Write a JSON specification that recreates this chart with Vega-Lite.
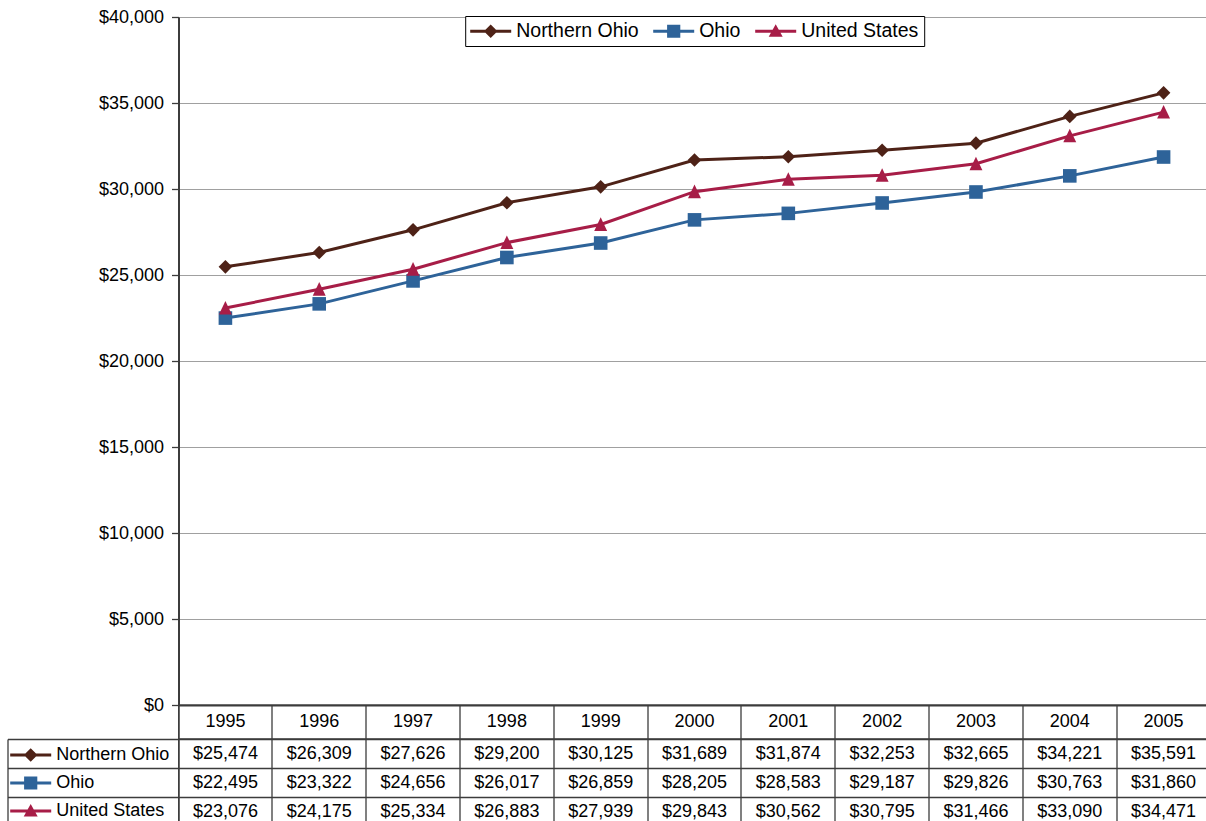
{
  "$schema": "https://vega.github.io/schema/vega-lite/v6.json",
  "background": "white",
  "padding": {"left": 5.5, "top": 8, "right": 0, "bottom": 0},
  "spacing": 0,
  "bounds": "flush",
  "resolve": {"scale": {"fill": "independent"}, "legend": {"fill": "independent"}},
  "datasets": {
    "income": [
      {"series": "Northern Ohio", "year": 1995, "value": 25474},
      {"series": "Northern Ohio", "year": 1996, "value": 26309},
      {"series": "Northern Ohio", "year": 1997, "value": 27626},
      {"series": "Northern Ohio", "year": 1998, "value": 29200},
      {"series": "Northern Ohio", "year": 1999, "value": 30125},
      {"series": "Northern Ohio", "year": 2000, "value": 31689},
      {"series": "Northern Ohio", "year": 2001, "value": 31874},
      {"series": "Northern Ohio", "year": 2002, "value": 32253},
      {"series": "Northern Ohio", "year": 2003, "value": 32665},
      {"series": "Northern Ohio", "year": 2004, "value": 34221},
      {"series": "Northern Ohio", "year": 2005, "value": 35591},
      {"series": "Ohio", "year": 1995, "value": 22495},
      {"series": "Ohio", "year": 1996, "value": 23322},
      {"series": "Ohio", "year": 1997, "value": 24656},
      {"series": "Ohio", "year": 1998, "value": 26017},
      {"series": "Ohio", "year": 1999, "value": 26859},
      {"series": "Ohio", "year": 2000, "value": 28205},
      {"series": "Ohio", "year": 2001, "value": 28583},
      {"series": "Ohio", "year": 2002, "value": 29187},
      {"series": "Ohio", "year": 2003, "value": 29826},
      {"series": "Ohio", "year": 2004, "value": 30763},
      {"series": "Ohio", "year": 2005, "value": 31860},
      {"series": "United States", "year": 1995, "value": 23076},
      {"series": "United States", "year": 1996, "value": 24175},
      {"series": "United States", "year": 1997, "value": 25334},
      {"series": "United States", "year": 1998, "value": 26883},
      {"series": "United States", "year": 1999, "value": 27939},
      {"series": "United States", "year": 2000, "value": 29843},
      {"series": "United States", "year": 2001, "value": 30562},
      {"series": "United States", "year": 2002, "value": 30795},
      {"series": "United States", "year": 2003, "value": 31466},
      {"series": "United States", "year": 2004, "value": 33090},
      {"series": "United States", "year": 2005, "value": 34471}
    ]
  },
  "vconcat": [
    {
      "width": 1032,
      "height": 688,
      "view": {"stroke": null},
      "data": {"name": "income"},
      "encoding": {
        "x": {
          "field": "year", "type": "ordinal",
          "scale": {"type": "band", "paddingInner": 0, "paddingOuter": 0},
          "axis": {"title": null, "labels": false, "ticks": false, "grid": false, "domainColor": "#3c3c3c", "domainWidth": 2}
        },
        "y": {
          "field": "value", "type": "quantitative",
          "scale": {"domain": [0, 40000], "nice": false},
          "axis": {
            "title": null,
            "values": [0, 5000, 10000, 15000, 20000, 25000, 30000, 35000, 40000],
            "format": "$,.0f",
            "labelFont": "Liberation Sans", "labelFontSize": 18, "labelColor": "#000", "labelPadding": 8,
            "tickSize": 7, "tickColor": "#3c3c3c", "tickWidth": 1.3,
            "domainColor": "#3c3c3c", "domainWidth": 2,
            "grid": true, "gridColor": "#a0a0a0", "gridWidth": 1
          }
        }
      },
      "layer": [
        {
          "mark": {"type": "line", "strokeWidth": 3},
          "encoding": {
            "stroke": {
              "field": "series", "type": "nominal",
              "scale": {"domain": ["Northern Ohio", "Ohio", "United States"], "range": ["#4e2217", "#2e6399", "#a71d47"]},
              "legend": {
                "orient": "none", "legendX": 286.7, "legendY": -1, "direction": "horizontal",
                "title": null, "padding": 5, "strokeColor": "#000", "fillColor": "#fff",
                "labelFontSize": 19.5, "labelColor": "#000", "labelOffset": 26, "columnPadding": 14,
                "symbolSize": 400,
                "encode": {
                  "symbols": {
                    "update": {
                      "shape": {"signal": "datum.value === 'Northern Ohio' ? 'M-1,-0.15H3.1V0.15H-1ZM1.05,-0.68L1.73,0L1.05,0.68L0.37,0Z' : datum.value === 'Ohio' ? 'M-1,-0.15H3.1V0.15H-1ZM0.39,-0.66H1.71V0.66H0.39Z' : 'M-1,-0.15H3.1V0.15H-1ZM1.05,-0.7L1.75,0.55H0.35Z'"},
                      "fill": {"signal": "datum.value === 'Northern Ohio' ? '#4e2217' : datum.value === 'Ohio' ? '#2e6399' : '#a71d47'"},
                      "stroke": {"value": "transparent"},
                      "strokeWidth": {"value": 0},
                      "opacity": {"value": 1}
                    }
                  }
                }
              }
            }
          }
        },
        {
          "mark": {"type": "point", "filled": true, "opacity": 1, "size": 185, "strokeWidth": 0},
          "encoding": {
            "fill": {
              "field": "series", "type": "nominal",
              "scale": {"range": ["#4e2217", "#2e6399", "#a71d47"]},
              "legend": {
                "orient": "none", "legendX": -168.3, "legendY": 728, "direction": "vertical",
                "title": null, "padding": 0,
                "labelFontSize": 18, "labelColor": "#000", "labelOffset": 26, "rowPadding": 9,
                "symbolSize": 400, "symbolStrokeWidth": 0, "symbolOpacity": 1,
                "encode": {
                  "symbols": {
                    "update": {
                      "shape": {"signal": "datum.value === 'Northern Ohio' ? 'M-1,-0.15H3.1V0.15H-1ZM1.05,-0.68L1.73,0L1.05,0.68L0.37,0Z' : datum.value === 'Ohio' ? 'M-1,-0.15H3.1V0.15H-1ZM0.39,-0.66H1.71V0.66H0.39Z' : 'M-1,-0.15H3.1V0.15H-1ZM1.05,-0.7L1.75,0.55H0.35Z'"},
                      "stroke": {"value": "transparent"},
                      "strokeWidth": {"value": 0},
                      "opacity": {"value": 1}
                    }
                  }
                }
              }
            },
            "shape": {
              "field": "series", "type": "nominal",
              "scale": {"range": ["diamond", "square", "M0,-1.05L0.95,0.95H-0.95Z"]},
              "legend": null
            }
          }
        }
      ]
    },
    {
      "width": 1032,
      "height": 34,
      "view": {"stroke": "#3c3c3c", "strokeWidth": 1.3},
      "data": {"name": "income"},
      "transform": [{"filter": "datum.series === 'Ohio'"}],
      "mark": {"type": "text", "fontSize": 18, "color": "#000"},
      "encoding": {
        "x": {
          "field": "year", "type": "ordinal",
          "scale": {"type": "band", "paddingInner": 0, "paddingOuter": 0},
          "axis": {"title": null, "labels": false, "ticks": false, "domain": false, "grid": true, "bandPosition": 0, "gridColor": "#3c3c3c", "gridWidth": 1.3}
        },
        "text": {"field": "year", "type": "ordinal"}
      }
    },
    {
      "width": 1032,
      "height": 87,
      "view": {"stroke": "#3c3c3c", "strokeWidth": 1.3},
      "data": {"name": "income"},
      "mark": {"type": "text", "fontSize": 18, "color": "#000"},
      "encoding": {
        "x": {
          "field": "year", "type": "ordinal",
          "scale": {"type": "band", "paddingInner": 0, "paddingOuter": 0},
          "axis": {"title": null, "labels": false, "ticks": false, "domain": false, "grid": true, "bandPosition": 0, "gridColor": "#3c3c3c", "gridWidth": 1.3}
        },
        "y": {
          "field": "series", "type": "nominal",
          "scale": {"type": "band", "paddingInner": 0, "paddingOuter": 0, "domain": ["Northern Ohio", "Ohio", "United States"]},
          "axis": {
            "title": null, "orient": "left", "offset": 171, "labels": false,
            "ticks": true, "tickSize": -171, "tickColor": "#3c3c3c", "tickWidth": 1.3,
            "domain": true, "domainColor": "#3c3c3c", "domainWidth": 1.3,
            "grid": true, "gridColor": "#3c3c3c", "gridWidth": 1.3, "bandPosition": 0
          }
        },
        "text": {"field": "value", "type": "quantitative", "format": "$,.0f"}
      }
    }
  ],
  "config": {
    "font": "Liberation Sans",
    "axis": {"labelFont": "Liberation Sans"},
    "legend": {"labelFont": "Liberation Sans"},
    "text": {"font": "Liberation Sans"}
  }
}
